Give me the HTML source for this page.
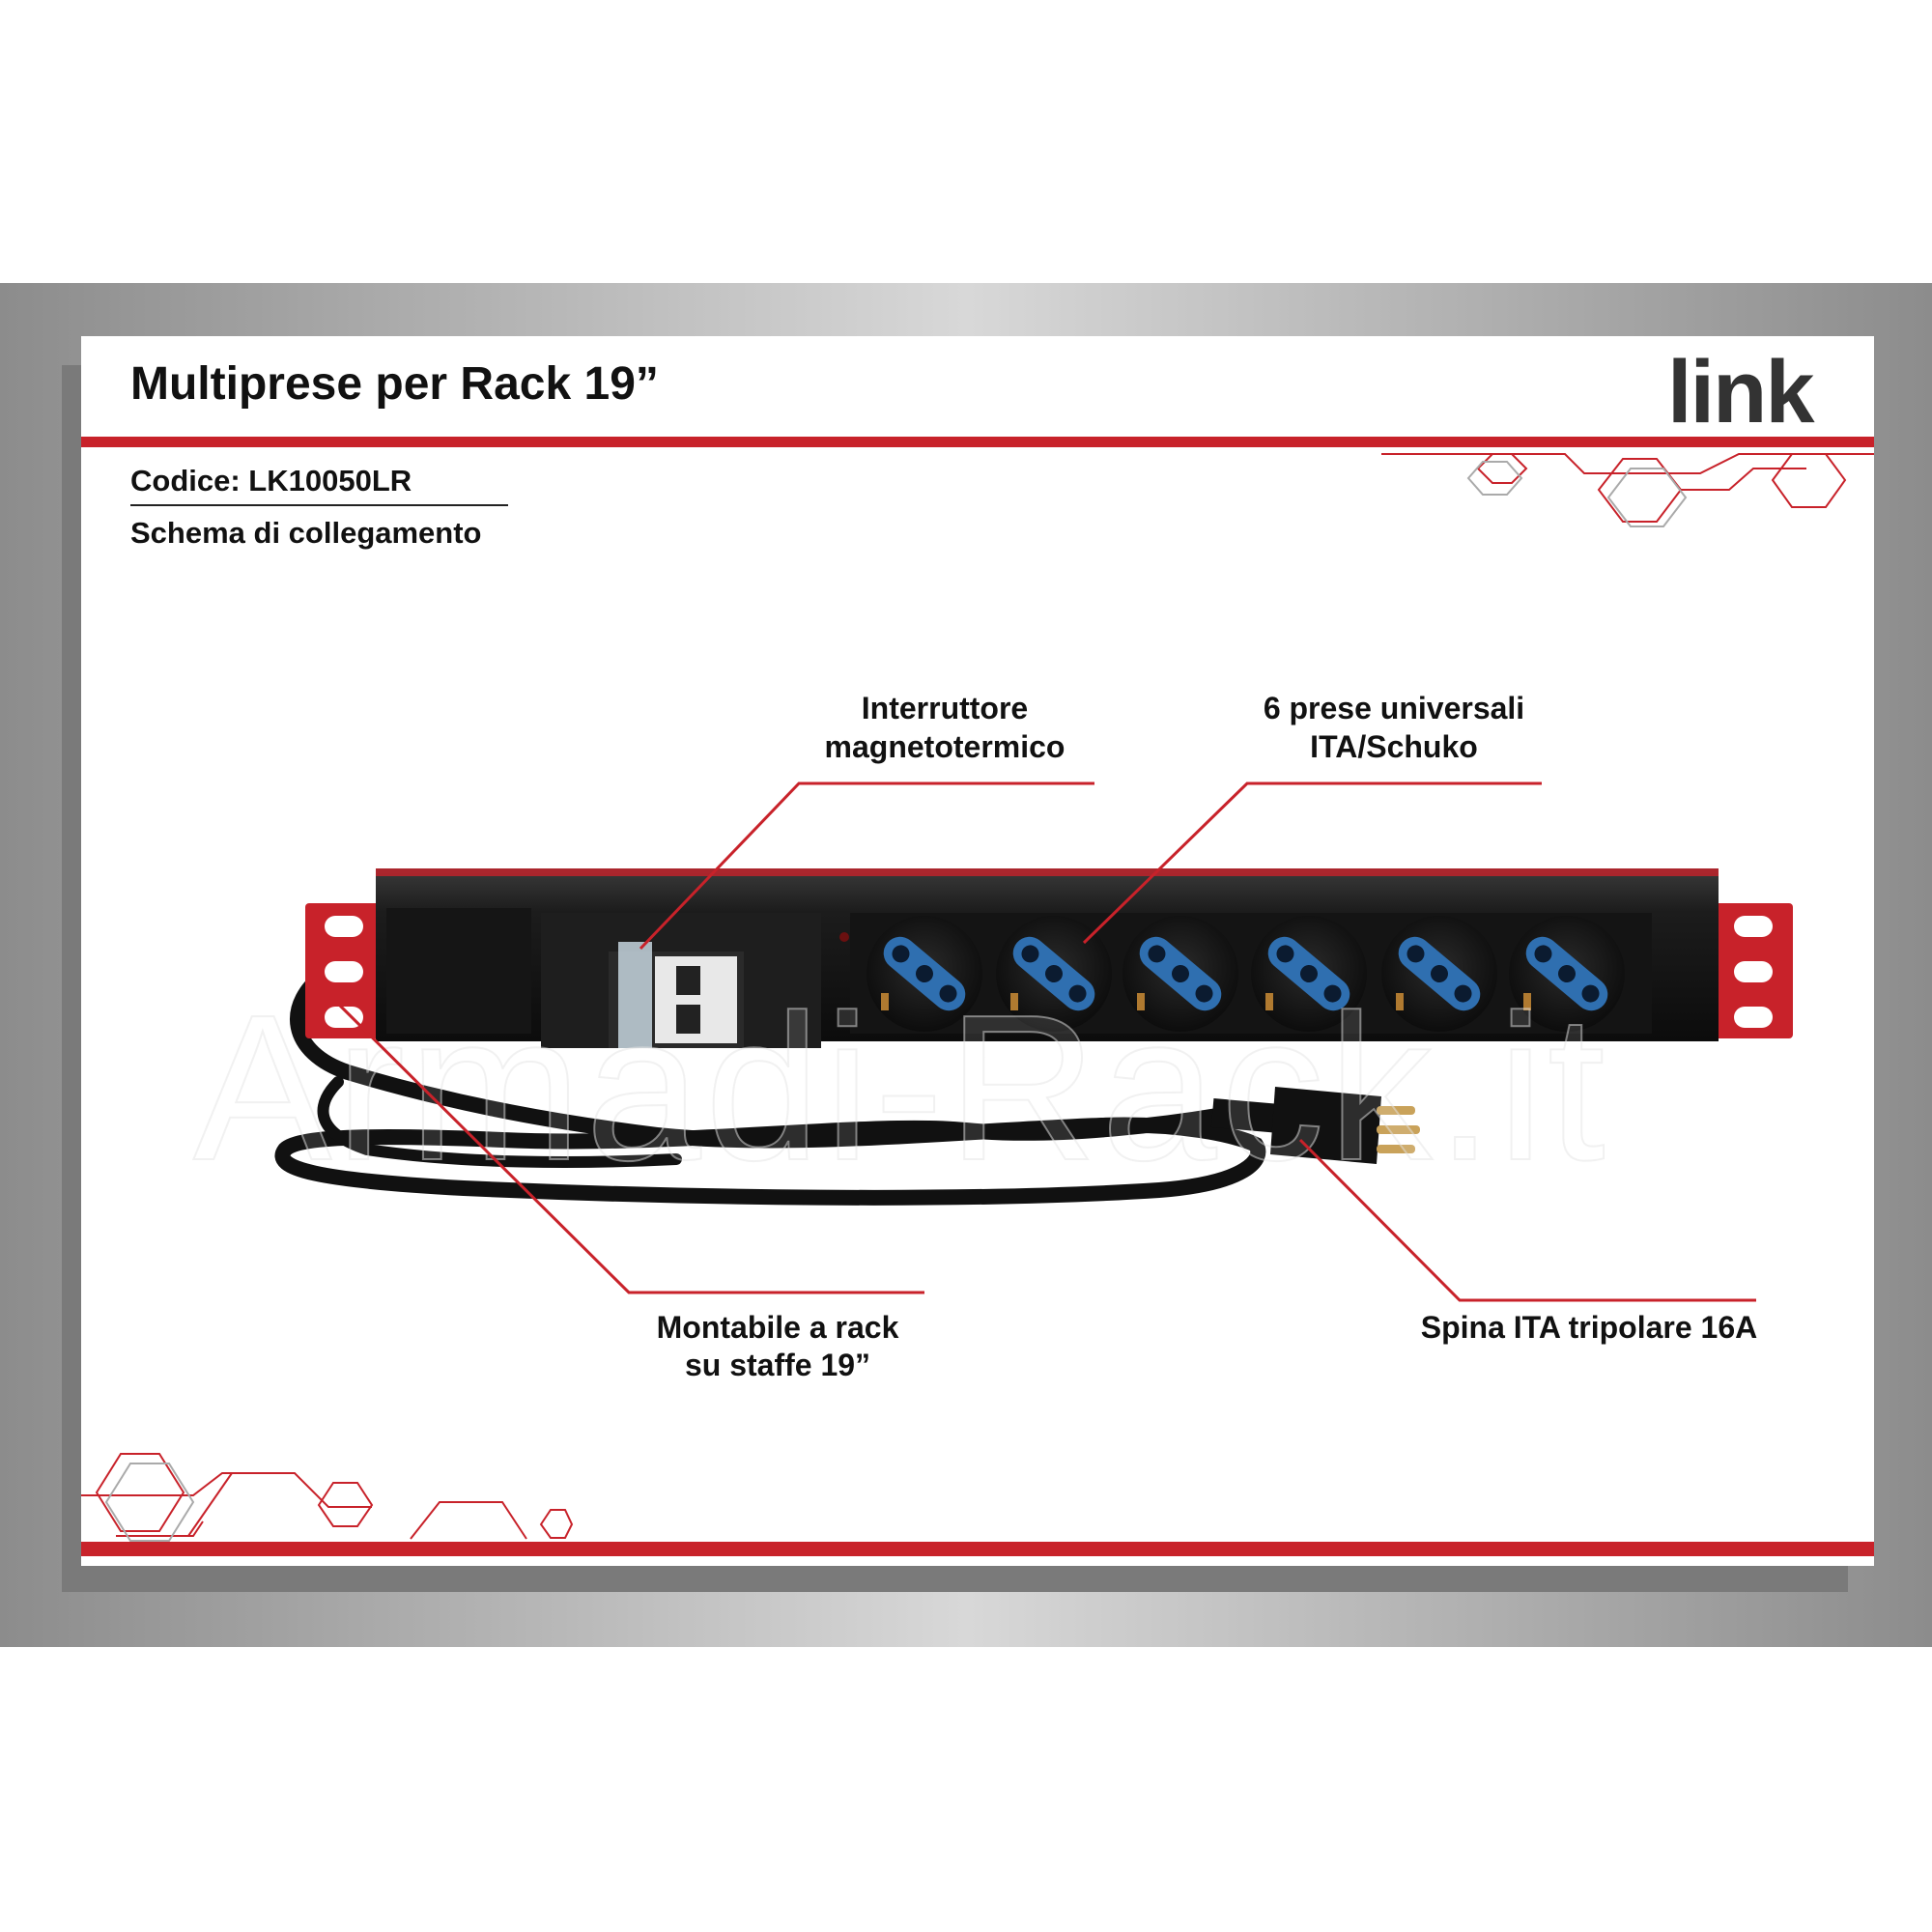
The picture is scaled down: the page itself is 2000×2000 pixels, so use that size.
<!DOCTYPE html>
<html><head><meta charset="utf-8"><style>
html,body{margin:0;padding:0;background:#fff;width:2000px;height:2000px;overflow:hidden}
</style></head><body>
<svg width="2000" height="2000" viewBox="0 0 2000 2000" xmlns="http://www.w3.org/2000/svg" style="display:block">
<defs>
<linearGradient id="band" x1="0" y1="0" x2="1" y2="0">
<stop offset="0" stop-color="#8c8c8c"/><stop offset="0.5" stop-color="#d8d8d8"/><stop offset="1" stop-color="#8c8c8c"/>
</linearGradient>
<linearGradient id="bar" x1="0" y1="0" x2="0" y2="1">
<stop offset="0" stop-color="#3a3a3a"/><stop offset="0.25" stop-color="#1c1c1c"/><stop offset="1" stop-color="#0c0c0c"/>
</linearGradient>
<radialGradient id="sock" cx="0.5" cy="0.45" r="0.6">
<stop offset="0" stop-color="#2a2a2a"/><stop offset="1" stop-color="#0a0a0a"/>
</radialGradient>
</defs>
<rect x="0" y="293" width="2000" height="1412" fill="url(#band)"/>
<rect x="64" y="378" width="1849" height="1270" fill="#7a7a7a"/>
<rect x="84" y="348" width="1856" height="1273" fill="#fff"/>
<text x="135" y="413" font-family="Liberation Sans, sans-serif" font-weight="bold" font-size="48" fill="#111">Multiprese per Rack 19”</text>
<text x="1726" y="437" font-family="Liberation Sans, sans-serif" font-weight="bold" font-size="92" fill="#333" letter-spacing="-2">link</text>
<rect x="84" y="452" width="1856" height="11" fill="#c8222a"/>
<text x="135" y="508" font-family="Liberation Sans, sans-serif" font-weight="bold" font-size="31" fill="#111">Codice: LK10050LR</text>
<rect x="135" y="522" width="391" height="2" fill="#222"/>
<text x="135" y="562" font-family="Liberation Sans, sans-serif" font-weight="bold" font-size="31" fill="#111">Schema di collegamento</text>
<g fill="none" stroke="#c8222a" stroke-width="2">
<polygon points="1530,485 1545,470 1565,470 1580,485 1565,500 1545,500"/>
<polygon points="1655,507 1680,475 1715,475 1740,507 1715,540 1680,540"/>
<polygon points="1835,497 1855,470 1890,470 1910,497 1890,525 1855,525"/>
<polyline points="1430,470 1620,470 1640,490 1760,490 1800,470 1940,470"/>
<polyline points="1740,507 1790,507 1815,485 1870,485"/>
<polygon points="100,1545 125,1505 165,1505 190,1545 165,1585 125,1585"/>
<polygon points="330,1558 345,1535 370,1535 385,1558 370,1580 345,1580"/>
<polygon points="560,1578 570,1563 585,1563 592,1578 585,1592 570,1592"/>
<polyline points="84,1548 200,1548 230,1525 305,1525 340,1560 385,1560"/>
<polyline points="195,1590 240,1525"/>
<polyline points="425,1593 455,1555 520,1555 545,1593"/>
<polyline points="120,1590 200,1590 210,1575"/>
</g>
<g fill="none" stroke="#aaa" stroke-width="2">
<polygon points="1520,495 1535,478 1560,478 1575,495 1560,512 1535,512"/>
<polygon points="1665,515 1688,485 1722,485 1745,515 1722,545 1688,545"/>
<polygon points="110,1555 135,1515 175,1515 200,1555 175,1595 135,1595"/>
</g>
<rect x="84" y="1596" width="1856" height="15" fill="#c8222a"/>

<g fill="none" stroke="#111" stroke-linecap="round">
<path d="M340,1005 C290,1040 300,1090 360,1110 C460,1140 560,1160 680,1175 C820,1190 1000,1170 1140,1165 C1220,1162 1280,1175 1300,1185 C1310,1200 1290,1225 1200,1232 C1000,1245 700,1240 480,1230 C330,1222 280,1210 295,1190 C310,1175 400,1175 520,1180 C700,1188 900,1160 1000,1170 C1100,1180 1230,1160 1260,1155" stroke-width="16"/>
<path d="M350,1120 C330,1140 320,1170 380,1190 C480,1205 600,1205 700,1200" stroke-width="12"/>
</g>
<rect x="1255" y="1140" width="75" height="30" fill="#111" transform="rotate(5 1290 1155)"/>
<path d="M1320,1125 L1430,1135 L1425,1205 L1315,1195 Z" fill="#111"/>
<g fill="#c9a25a"><rect x="1425" y="1145" width="40" height="9" rx="4"/><rect x="1425" y="1165" width="45" height="9" rx="4"/><rect x="1425" y="1185" width="40" height="9" rx="4"/></g>

<rect x="316" y="935" width="80" height="140" fill="#c8222a" rx="4"/>
<rect x="1770" y="935" width="86" height="140" fill="#c8222a" rx="4"/>
<g fill="#fff">
<rect x="336" y="948" width="40" height="22" rx="11"/><rect x="336" y="995" width="40" height="22" rx="11"/><rect x="336" y="1042" width="40" height="22" rx="11"/>
<rect x="1795" y="948" width="40" height="22" rx="11"/><rect x="1795" y="995" width="40" height="22" rx="11"/><rect x="1795" y="1042" width="40" height="22" rx="11"/>
</g>
<rect x="389" y="899" width="1390" height="179" fill="url(#bar)"/>
<rect x="389" y="899" width="1390" height="8" fill="#c8222a" opacity="0.8"/>
<rect x="400" y="940" width="150" height="130" fill="#151515"/>
<rect x="560" y="945" width="290" height="140" fill="#1e1e1e"/>
<rect x="630" y="985" width="140" height="100" fill="#2a2a2a"/>
<rect x="640" y="975" width="35" height="110" fill="#cfe0ea" opacity="0.8"/>
<rect x="678" y="990" width="85" height="90" fill="#e8e8e8"/>
<rect x="700" y="1000" width="25" height="30" fill="#222"/><rect x="700" y="1040" width="25" height="30" fill="#222"/>
<rect x="880" y="945" width="830" height="125" fill="#141414"/>
<circle cx="874" cy="970" r="5" fill="#6a1010"/>
<g>
<g transform="translate(957,1008)"><circle r="60" fill="url(#sock)"/><g transform="rotate(40)" fill="#2f6fb0"><rect x="-50" y="-17" width="100" height="34" rx="17"/></g><g fill="#0b1b30" transform="rotate(40)"><circle cx="-32" r="9"/><circle r="9"/><circle cx="32" r="9"/></g><rect x="-45" y="20" width="8" height="18" fill="#b07a30"/></g>
<g transform="translate(1091,1008)"><circle r="60" fill="url(#sock)"/><g transform="rotate(40)" fill="#2f6fb0"><rect x="-50" y="-17" width="100" height="34" rx="17"/></g><g fill="#0b1b30" transform="rotate(40)"><circle cx="-32" r="9"/><circle r="9"/><circle cx="32" r="9"/></g><rect x="-45" y="20" width="8" height="18" fill="#b07a30"/></g>
<g transform="translate(1222,1008)"><circle r="60" fill="url(#sock)"/><g transform="rotate(40)" fill="#2f6fb0"><rect x="-50" y="-17" width="100" height="34" rx="17"/></g><g fill="#0b1b30" transform="rotate(40)"><circle cx="-32" r="9"/><circle r="9"/><circle cx="32" r="9"/></g><rect x="-45" y="20" width="8" height="18" fill="#b07a30"/></g>
<g transform="translate(1355,1008)"><circle r="60" fill="url(#sock)"/><g transform="rotate(40)" fill="#2f6fb0"><rect x="-50" y="-17" width="100" height="34" rx="17"/></g><g fill="#0b1b30" transform="rotate(40)"><circle cx="-32" r="9"/><circle r="9"/><circle cx="32" r="9"/></g><rect x="-45" y="20" width="8" height="18" fill="#b07a30"/></g>
<g transform="translate(1490,1008)"><circle r="60" fill="url(#sock)"/><g transform="rotate(40)" fill="#2f6fb0"><rect x="-50" y="-17" width="100" height="34" rx="17"/></g><g fill="#0b1b30" transform="rotate(40)"><circle cx="-32" r="9"/><circle r="9"/><circle cx="32" r="9"/></g><rect x="-45" y="20" width="8" height="18" fill="#b07a30"/></g>
<g transform="translate(1622,1008)"><circle r="60" fill="url(#sock)"/><g transform="rotate(40)" fill="#2f6fb0"><rect x="-50" y="-17" width="100" height="34" rx="17"/></g><g fill="#0b1b30" transform="rotate(40)"><circle cx="-32" r="9"/><circle r="9"/><circle cx="32" r="9"/></g><rect x="-45" y="20" width="8" height="18" fill="#b07a30"/></g>
</g>

<text x="200" y="1200" font-family="Liberation Sans, sans-serif" font-size="215" fill="#fff" fill-opacity="0.12" stroke="#e4e4e4" stroke-width="2" stroke-opacity="0.5" letter-spacing="4">Armadi-Rack.it</text>

<g stroke="#c8222a" stroke-width="3" fill="none">
<polyline points="1133,811 827,811 663,982"/>
<polyline points="1596,811 1291,811 1122,976"/>
<polyline points="957,1338 651,1338 351,1040"/>
<polyline points="1818,1346 1511,1346 1346,1180"/>
</g>
<g font-family="Liberation Sans, sans-serif" font-weight="bold" font-size="32" fill="#111" text-anchor="middle">
<text x="978" y="744">Interruttore</text>
<text x="978" y="784">magnetotermico</text>
<text x="1443" y="744">6 prese universali</text>
<text x="1443" y="784">ITA/Schuko</text>
<text x="805" y="1385">Montabile a rack</text>
<text x="805" y="1424">su staffe 19”</text>
<text x="1645" y="1385">Spina ITA tripolare 16A</text>
</g>
</svg>
</body></html>
